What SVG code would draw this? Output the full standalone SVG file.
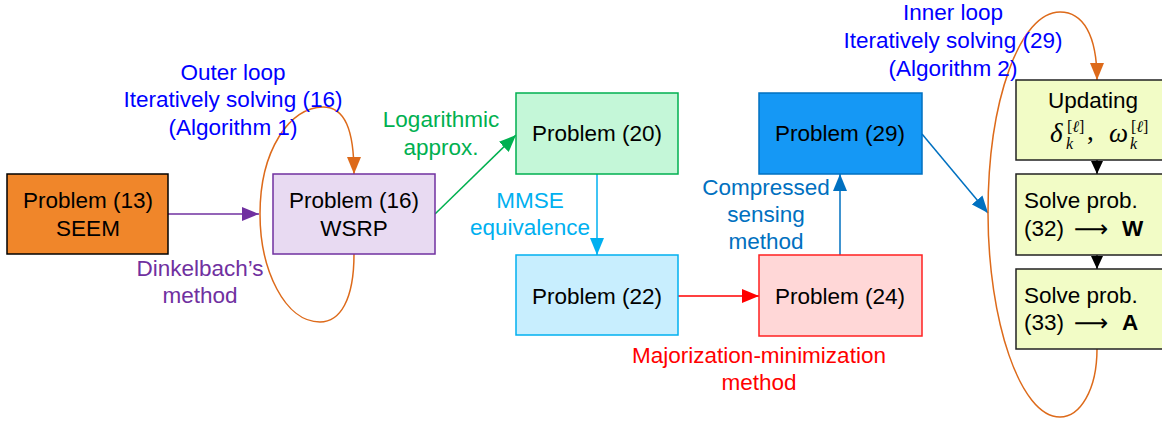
<svg xmlns="http://www.w3.org/2000/svg" width="1162" height="421" viewBox="0 0 1162 421">
<style>
text{font-family:"Liberation Sans",Arial,sans-serif;font-size:22.5px}
.c{text-anchor:middle}
.m{font-family:"Liberation Serif","Times New Roman",serif;font-style:italic}
.mb{font-size:27px}
.ms{font-size:16px}
.up{font-style:normal}
.arr{font-family:"DejaVu Sans","Liberation Serif",serif;font-size:24px}
.box{stroke-width:1.5}
.ln{fill:none;stroke-width:1.5}
</style>
<defs>
<marker id="aP" markerUnits="userSpaceOnUse" markerWidth="18" markerHeight="14" refX="17" refY="7" orient="auto"><path d="M0,0 L17,7 L0,14 Z" fill="#7030a0"/></marker>
<marker id="aG" markerUnits="userSpaceOnUse" markerWidth="18" markerHeight="14" refX="17" refY="7" orient="auto"><path d="M0,0 L17,7 L0,14 Z" fill="#00b050"/></marker>
<marker id="aC" markerUnits="userSpaceOnUse" markerWidth="18" markerHeight="14" refX="17" refY="7" orient="auto"><path d="M0,0 L17,7 L0,14 Z" fill="#00b0f0"/></marker>
<marker id="aR" markerUnits="userSpaceOnUse" markerWidth="18" markerHeight="14" refX="17" refY="7" orient="auto"><path d="M0,0 L17,7 L0,14 Z" fill="#ff0000"/></marker>
<marker id="aB" markerUnits="userSpaceOnUse" markerWidth="18" markerHeight="14" refX="17" refY="7" orient="auto"><path d="M0,0 L17,7 L0,14 Z" fill="#0070c0"/></marker>
<marker id="aO" markerUnits="userSpaceOnUse" markerWidth="18" markerHeight="14" refX="17" refY="7" orient="auto"><path d="M0,0 L17,7 L0,14 Z" fill="#dd6a1a"/></marker>
<marker id="aK" markerUnits="userSpaceOnUse" markerWidth="14" markerHeight="12" refX="13" refY="6" orient="auto"><path d="M0,0 L13,6 L0,12 Z" fill="#000"/></marker>
</defs>

<g id="connectors">
<path class="ln" d="M168,214 L259,214" stroke="#7030a0" marker-end="url(#aP)"/>
<path class="ln" d="M354,254 C354,300 340,322 320,322 C285,322 260,270 260,214 C260,150 290,107 323,107 C345,107 354,130 354,174" stroke="#dd6a1a" marker-end="url(#aO)"/>
<path class="ln" d="M435,214 L516,135" stroke="#00b050" marker-end="url(#aG)"/>
<path class="ln" d="M597,174 L597,255" stroke="#00b0f0" marker-end="url(#aC)"/>
<path class="ln" d="M678,296 L759,296" stroke="#ff0000" marker-end="url(#aR)"/>
<path class="ln" d="M840,255 L840,174" stroke="#0070c0" marker-end="url(#aB)"/>
<path class="ln" d="M922,134 L988,213" stroke="#0070c0" marker-end="url(#aB)"/>
<path class="ln" d="M1097,349 C1097,390 1080,417 1060,417 C1020,417 988,320 988,213 C988,100 1020,12 1060,12 C1083,12 1097,35 1097,80" stroke="#dd6a1a" marker-end="url(#aO)"/>
<path class="ln" d="M1097,160 L1097,174" stroke="#000" marker-end="url(#aK)"/>
<path class="ln" d="M1097,255 L1097,269" stroke="#000" marker-end="url(#aK)"/>
</g>

<g id="n13">
<rect class="box" x="7" y="174" width="161" height="80" fill="#f0862a" stroke="#000"/>
<text class="c" x="88" y="208">Problem (13)</text>
<text class="c" x="88" y="236">SEEM</text>
</g>
<g id="n16">
<rect class="box" x="273" y="174" width="162" height="80" fill="#e8daf2" stroke="#7030a0"/>
<text class="c" x="354" y="208">Problem (16)</text>
<text class="c" x="354" y="236">WSRP</text>
</g>
<g id="n20">
<rect class="box" x="516" y="93" width="162" height="81" fill="#c4f7d8" stroke="#00b050"/>
<text class="c" x="597" y="141">Problem (20)</text>
</g>
<g id="n22">
<rect class="box" x="516" y="255" width="162" height="80" fill="#c8eefe" stroke="#00b0f0"/>
<text class="c" x="597" y="304">Problem (22)</text>
</g>
<g id="n24">
<rect class="box" x="759" y="255" width="163" height="81" fill="#ffd7d7" stroke="#ff2020"/>
<text class="c" x="840" y="304">Problem (24)</text>
</g>
<g id="n29">
<rect class="box" x="759" y="93" width="163" height="81" fill="#1598f5" stroke="#0070c0"/>
<text class="c" x="840" y="141">Problem (29)</text>
</g>
<g id="nUpd">
<rect class="box" x="1016" y="80" width="160" height="80" fill="#f2fcc6" stroke="#222"/>
<text class="c" x="1093" y="108">Updating</text>
<text class="m mb" x="1050" y="142">δ</text>
<text class="m ms" x="1066" y="149">k</text>
<text class="m ms up" x="1067" y="132">[<tspan class="m">ℓ</tspan>]</text>
<text class="m mb up" x="1087" y="140">,</text>
<text class="m mb" x="1109" y="142">ω</text>
<text class="m ms" x="1130" y="149">k</text>
<text class="m ms up" x="1131" y="132">[<tspan class="m">ℓ</tspan>]</text>
</g>
<g id="n32">
<rect class="box" x="1016" y="174" width="160" height="81" fill="#f2fcc6" stroke="#222"/>
<text x="1024" y="236">(32)</text>
<text x="1024" y="208">Solve prob.</text>
<text class="arr" x="1074" y="237">⟶</text>
<text x="1122" y="236" font-weight="bold">W</text>
</g>
<g id="n33">
<rect class="box" x="1016" y="269" width="160" height="80" fill="#f2fcc6" stroke="#222"/>
<text x="1024" y="303">Solve prob.</text>
<text x="1024" y="330">(33)</text>
<text class="arr" x="1074" y="331">⟶</text>
<text x="1122" y="330" font-weight="bold">A</text>
</g>

<g id="labels">
<text class="c" fill="#0000ff" x="233" y="80">Outer loop</text>
<text class="c" fill="#0000ff" x="233" y="107">Iteratively solving (16)</text>
<text class="c" fill="#0000ff" x="233" y="135">(Algorithm 1)</text>
<text class="c" fill="#7030a0" x="200" y="276">Dinkelbach’s</text>
<text class="c" fill="#7030a0" x="200" y="303">method</text>
<text class="c" fill="#00b050" x="441" y="127">Logarithmic</text>
<text class="c" fill="#00b050" x="441" y="155">approx.</text>
<text class="c" fill="#00b0f0" x="530" y="208">MMSE</text>
<text class="c" fill="#00b0f0" x="530" y="235">equivalence</text>
<text class="c" fill="#ff0000" x="759" y="363">Majorization-minimization</text>
<text class="c" fill="#ff0000" x="759" y="390">method</text>
<text class="c" fill="#0070c0" x="766" y="195">Compressed</text>
<text class="c" fill="#0070c0" x="766" y="222">sensing</text>
<text class="c" fill="#0070c0" x="766" y="249">method</text>
<text class="c" fill="#0000ff" x="953" y="20">Inner loop</text>
<text class="c" fill="#0000ff" x="953" y="48">Iteratively solving (29)</text>
<text class="c" fill="#0000ff" x="953" y="76">(Algorithm 2)</text>
</g>
</svg>
